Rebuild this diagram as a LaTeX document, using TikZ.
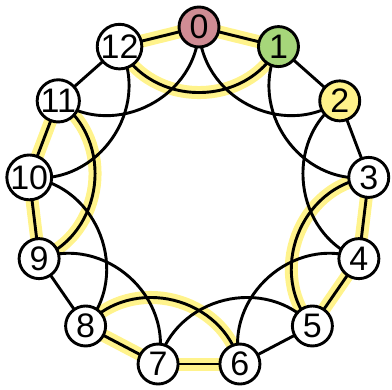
\documentclass[tikz,border=0pt]{standalone}
\usepackage{fontspec}
\setmainfont{Liberation Sans}
\definecolor{hl}{RGB}{255,243,140}
\definecolor{czero}{RGB}{208,140,148}
\definecolor{cone}{RGB}{166,214,122}
\definecolor{ctwo}{RGB}{255,242,138}
\begin{document}
\begin{tikzpicture}[x=1pt,y=-1pt,
  vert/.style={circle,draw=black,line width=2.9pt,fill=white,minimum size=40pt,inner sep=0pt,font=\fontsize{34}{34}\selectfont},
  edge/.style={draw=black,line width=2.9pt},
  hledge/.style={draw=hl,line width=13pt,line cap=round},
  skip/.style={bend right=62,looseness=1.12}]
\useasboundingbox (0,0) rectangle (392,390);
\foreach \k in {0,...,12}
  \coordinate (p\k) at ({199+171*cos(90-\k*360/13)},{198-171*sin(90-\k*360/13)});
% highlights
\path[hledge] (p0) -- (p1);
\path[hledge] (p12) -- (p0);
\path[hledge] (p12) to[skip] (p1);
\path[hledge] (p9) -- (p10);
\path[hledge] (p10) -- (p11);
\path[hledge] (p9) to[skip] (p11);
\path[hledge] (p3) -- (p4);
\path[hledge] (p4) -- (p5);
\path[hledge] (p3) to[skip] (p5);
\path[hledge] (p6) -- (p7);
\path[hledge] (p7) -- (p8);
\path[hledge] (p6) to[skip] (p8);
% edges
\foreach \a/\b/\c in {0/1/2,1/2/3,2/3/4,3/4/5,4/5/6,5/6/7,6/7/8,7/8/9,8/9/10,9/10/11,10/11/12,11/12/0,12/0/1}{
  \path[edge] (p\a) -- (p\b);
  \path[edge] (p\a) to[skip] (p\c);
}
% nodes
\foreach \k/\c in {0/czero,1/cone,2/ctwo,3/white,4/white,5/white,6/white,7/white,8/white,9/white,10/white,11/white,12/white}
  \node[vert,fill=\c] (n\k) at (p\k) {\k};
\end{tikzpicture}
\end{document}
